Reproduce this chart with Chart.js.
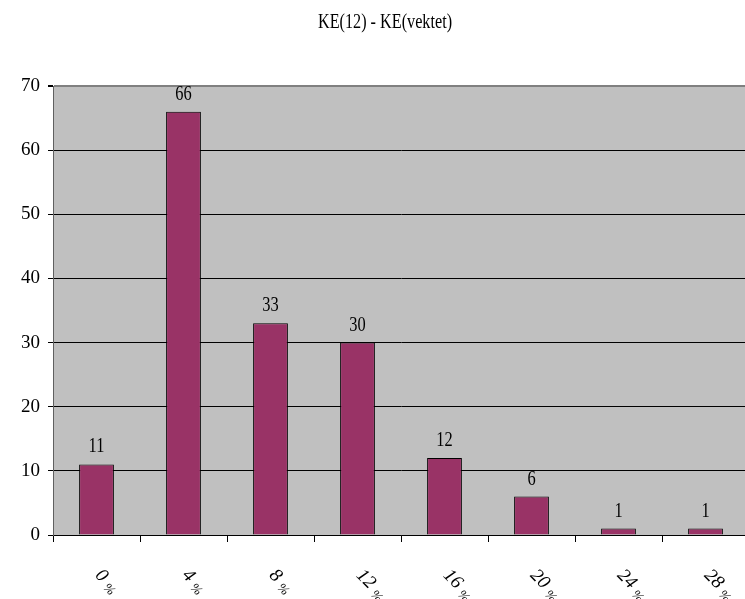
<!DOCTYPE html>
<html lang="no">
<head>
    <meta charset="UTF-8">
    <title>KE(12) - KE(vektet)</title>
    <script src="https://cdn.jsdelivr.net/npm/chart.js"></script>
    <style>
        html, body { margin: 0; padding: 0; background: #fff; overflow: hidden; }
        #wrap { width: 752px; height: 599px; }
    </style>
</head>
<body>
    <div id="wrap"><canvas id="chart" width="752" height="599"></canvas></div>

    <script>
        // Chart data
        const chartTitle = 'KE(12) - KE(vektet)';
        const categories = ['0', '4', '8', '12', '16', '20', '24', '28'];
        const counts = [11, 66, 33, 30, 12, 6, 1, 1];
        const yTicks = [0, 10, 20, 30, 40, 50, 60, 70];

        const serif = "'Liberation Serif', 'Times New Roman', serif";

        // draws text squeezed horizontally, like the narrow Times in the original
        function condensedText(ctx, text, x, y, sx) {
            ctx.save();
            ctx.translate(x, y);
            ctx.scale(sx, 1);
            ctx.fillText(text, 0, 0);
            ctx.restore();
        }

        // grey plot background
        const plotBackground = {
            id: 'plotBackground',
            beforeDraw(chart) {
                const { ctx, chartArea: a } = chart;
                ctx.save();
                ctx.fillStyle = '#c0c0c0';
                ctx.fillRect(a.left, a.top, a.right - a.left, a.bottom - a.top);
                ctx.restore();
            }
        };

        // title, value labels and rotated category labels
        const textLayer = {
            id: 'textLayer',
            afterDraw(chart) {
                const ctx = chart.ctx;
                ctx.save();
                ctx.fillStyle = '#000';

                // title
                ctx.font = '20px ' + serif;
                ctx.textAlign = 'center';
                ctx.textBaseline = 'alphabetic';
                condensedText(ctx, chartTitle, 385, 28, 0.81);

                // values above the bars
                const meta = chart.getDatasetMeta(0);
                meta.data.forEach((bar, i) => {
                    condensedText(ctx, String(counts[i]), bar.x, bar.y - 12, 0.82);
                });

                // category labels, turned 45 degrees clockwise
                const xScale = chart.scales.x;
                const top = chart.chartArea.bottom + 41;
                categories.forEach((c, i) => {
                    const x = xScale.getPixelForTick(i) - 2;
                    ctx.save();
                    ctx.translate(x, top);
                    ctx.rotate(Math.PI / 4);
                    ctx.textAlign = 'left';
                    ctx.font = 'italic 19px ' + serif;
                    ctx.fillText(c, 0, 0);
                    const w = ctx.measureText(c).width;
                    ctx.font = 'italic 13px ' + serif;
                    ctx.fillText('%', w + 5, 3);
                    ctx.restore();
                });
                ctx.restore();
            }
        };

        const ctx = document.getElementById('chart').getContext('2d');
        new Chart(ctx, {
            type: 'bar',
            data: {
                labels: categories,
                datasets: [{
                    data: counts,
                    backgroundColor: '#993366',
                    borderColor: '#000',
                    borderWidth: 1,
                    barPercentage: 0.4,
                    categoryPercentage: 1
                }]
            },
            options: {
                responsive: false,
                animation: false,
                layout: { padding: { top: 86, right: 3, left: 0, bottom: 0 } },
                plugins: {
                    legend: { display: false },
                    title: { display: false },
                    tooltip: { enabled: false }
                },
                scales: {
                    x: {
                        grid: {
                            offset: true,
                            drawOnChartArea: false,
                            drawTicks: true,
                            tickLength: 7,
                            color: '#000'
                        },
                        border: { color: '#000' },
                        ticks: { display: false },
                        afterFit(scale) { scale.height = 64; }
                    },
                    y: {
                        min: 0,
                        max: 70,
                        afterBuildTicks(scale) {
                            scale.ticks = yTicks.map(v => ({ value: v }));
                        },
                        grid: {
                            color: c => (c.tick && c.tick.value === 70) ? '#808080' : '#000',
                            lineWidth: c => (c.tick && c.tick.value === 70) ? 2 : 1,
                            tickColor: '#000',
                            tickLength: 5
                        },
                        border: { color: '#606060' },
                        ticks: {
                            color: '#000',
                            padding: 8,
                            font: { family: serif, size: 19 }
                        },
                        afterFit(scale) { scale.width = 53; }
                    }
                }
            },
            plugins: [plotBackground, textLayer]
        });
    </script>
</body>
</html>
